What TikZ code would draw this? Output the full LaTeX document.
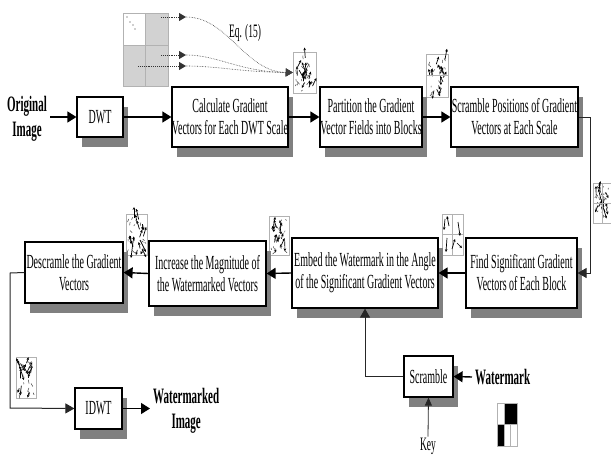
\documentclass[tikz,border=0pt]{standalone}
\usepackage{fontspec}
\setmainfont{Liberation Serif}[FakeStretch=0.5]
\usetikzlibrary{arrows.meta,calc,shadows}
\tikzset{
  box/.style={draw, line width=1.2pt, fill=white, align=center, inner sep=0pt,
    font=\fontsize{20}{22}\selectfont,
    drop shadow={shadow xshift=5pt, shadow yshift=-10pt, fill=black!50, opacity=1}},
  btxt/.style={align=center, inner sep=3pt, font=\fontsize{22}{25}\selectfont\bfseries},
  ntxt/.style={align=center, inner sep=1pt, font=\fontsize{19}{20}\selectfont},
  flow/.style={line width=1.4pt, -{Triangle[length=9pt,width=11pt]}},
  thinarrow/.style={line width=1pt, black!85, -{Triangle[length=9pt,width=10pt]}},
  icon/.style={draw=black!30, line width=0.5pt, fill=white, inner sep=0pt},
  vec/.style={line width=0.7pt, black, -{Stealth[length=2.8pt,width=2.6pt]}},
  speck/.style={line width=0.5pt, black!75},
  dotarrow/.style={line width=0.9pt, densely dotted, black!80, -{Triangle[length=7pt,width=8pt]}},
  dotcurve/.style={line width=0.6pt, densely dotted, black!75, -{Triangle[length=7pt,width=8pt]}},
}
\newcommand\vfield[6]{%
  \node[icon, minimum width=#4pt, minimum height=#5pt] (#1) at (#2,#3) {};
  \pgfmathsetseed{#6}
  \foreach \k in {1,...,16}{
    \pgfmathsetmacro\px{#2-#4/2+3+rnd*(#4-6)}
    \pgfmathsetmacro\py{#3-#5/2+5+rnd*(#5-10)}
    \pgfmathsetmacro\an{60+rnd*60+180*(rnd>0.5)}
    \pgfmathsetmacro\ln{4+rnd*7}
    \draw[vec] (\px,\py) -- ++(\an:\ln);
  }
  \foreach \k in {1,...,18}{
    \pgfmathsetmacro\px{#2-#4/2+2+rnd*(#4-4)}
    \pgfmathsetmacro\py{#3-#5/2+3+rnd*(#5-6)}
    \pgfmathsetmacro\an{40+rnd*100}
    \pgfmathsetmacro\ln{1.5+rnd*2.5}
    \draw[speck] (\px,\py) -- ++(\an:\ln);
  }}
\begin{document}
\begin{tikzpicture}[x=1pt,y=-1pt]
\useasboundingbox (0,0) rectangle (611,455);

% sub-band diagram
\node[inner sep=0pt, minimum width=45pt, minimum height=73pt] (sub) at (145.5,49.5) {};
\fill[gray!35] (sub.north west) rectangle (sub.south east);
\fill[white] (123,13) rectangle (145,45);
\draw[gray!60, line width=0.4pt] (sub.north west) rectangle (sub.south east)
  (145,13) -- (145,86) (123,45) -- (168,45);
\foreach \p in {(127,17),(130,22),(133,25),(135,29)} \fill[black!80] \p circle (0.6pt);
\coordinate (s1) at (161,17); \coordinate (h1) at (186,17);
\coordinate (s2) at (161,55); \coordinate (h2) at (186,55);
\coordinate (s3) at (138,66); \coordinate (h3) at (186,66);
\draw[dotarrow] (s1) -- (h1);
\draw[dotarrow] (s2) -- (h2);
\draw[dotarrow] (s3) -- (h3);
\node[ntxt] (eq) at (245,33) {Eq. (15)};

% icons
\vfield{ic1}{304.5}{72.5}{23}{41}{3}
\vfield{ic2}{437}{75.5}{22}{43}{5}
\draw[black!30, line width=0.5pt] (ic2.west) -- (ic2.east);
\vfield{ic3}{602}{203}{18}{40}{8}
\draw[black!30, line width=0.5pt] (ic3.west) -- (ic3.east) (ic3.north) -- (ic3.south);
\node[icon, minimum width=21pt, minimum height=41pt] (ic4) at (452.5,234.5) {};
\draw[black!30, line width=0.5pt] (ic4.west) -- (ic4.east) (ic4.north) -- (ic4.south);
\draw[vec] (445,219) -- (444,230);
\draw[vec] (449,226) -- (447,216);
\draw[vec] (458,222) -- (460,236);
\draw[vec] (447,238) -- (446,252);
\draw[vec] (452,249) -- (455,239);
\draw[vec] (457,243) -- (462,248);
\vfield{ic5}{279}{235.5}{20}{39}{11}
\vfield{ic6}{136.5}{234.5}{21}{41}{13}
\draw[vec] (134,218) -- (134,207);
\draw[vec] (140,240) -- (146,252);
\draw[vec] (133,242) -- (131,258);
\vfield{ic7}{26}{377.5}{20}{41}{17}

\draw[dotcurve] (h1) .. controls (228,17) and (245,72) .. (ic1.west);
\draw[dotcurve] (h2) .. controls (218,55) and (240,72) .. (ic1.west);
\draw[dotcurve] (h3) .. controls (218,66) and (240,72) .. (ic1.west);

% main boxes
\node[btxt] (orig) at (27,119) {Original\\Image};
\node[box, minimum width=46pt, minimum height=40pt] (dwt) at (100,117) {DWT};
\node[box, minimum width=116pt, minimum height=60pt] (calc) at (230,117) {Calculate Gradient\\Vectors for Each DWT Scale};
\node[box, minimum width=102pt, minimum height=60pt] (part) at (371,117) {Partition the Gradient\\Vector Fields into Blocks};
\node[box, minimum width=127pt, minimum height=60pt] (scr) at (514.5,117) {Scramble Positions of Gradient\\Vectors at Each Scale};
\node[box, minimum width=111pt, minimum height=70pt] (find) at (521.5,273) {Find Significant Gradient\\Vectors of Each Block};
\node[box, minimum width=146pt, minimum height=70pt] (embed) at (365,273) {Embed the Watermark in the Angle\\of the Significant Gradient Vectors};
\node[box, minimum width=117pt, minimum height=65pt] (incr) at (207.5,273.5) {Increase the Magnitude of\\the Watermarked Vectors};
\node[box, minimum width=98pt, minimum height=61pt] (desc) at (74,272.5) {Descramle the Gradient\\Vectors};
\node[box, minimum width=47pt, minimum height=41pt] (idwt) at (98.5,408.5) {IDWT};
\node[btxt, anchor=west] (wmimg) at (150,411) {Watermarked\\Image};
\node[box, minimum width=49pt, minimum height=41pt] (scrm) at (428.5,376.5) {Scramble};
\node[btxt, anchor=west] (wmark) at (472,377) {Watermark};
\node[ntxt] (key) at (428,446) {Key};

% watermark pattern
\node[inner sep=0pt, minimum width=20pt, minimum height=43pt] (wmpat) at (507,424.5) {};
\fill[black] (504,403) rectangle (517,424);
\fill[black] (497,424) rectangle (504,446);
\draw[black!30, line width=0.4pt] (wmpat.north west) rectangle (wmpat.south east)
  (504,403) -- (504,446) (497,424) -- (517,424) (510,424) -- (510,446);

% connectors
\draw[flow] (orig.east |- dwt.west) -- (dwt.west);
\draw[flow] (dwt.east) -- (calc.west);
\draw[flow] (calc.east) -- (part.west);
\draw[flow] (part.east) -- (scr.west);
\draw[thinarrow] (scr.east) -- (590,117) -- (590,273) -- (find.east);
\draw[flow] (find.west) -- (embed.east);
\draw[flow] (embed.west) -- (incr.east);
\draw[flow] (incr.west) -- (desc.east);
\draw[thinarrow] (desc.west) -- (10,273) -- (10,408) -- (idwt.west);
\draw[flow] (idwt.east) -- (wmimg.west |- idwt.east);
\draw[thinarrow] (scrm.west) -| (embed.south);
\draw[flow] (wmark.west) -- (scrm.east);
\draw[line width=0.8pt, black!85, -{Triangle[length=8pt,width=7pt]}] (key.north) -- (scrm.south);
\end{tikzpicture}
\end{document}
